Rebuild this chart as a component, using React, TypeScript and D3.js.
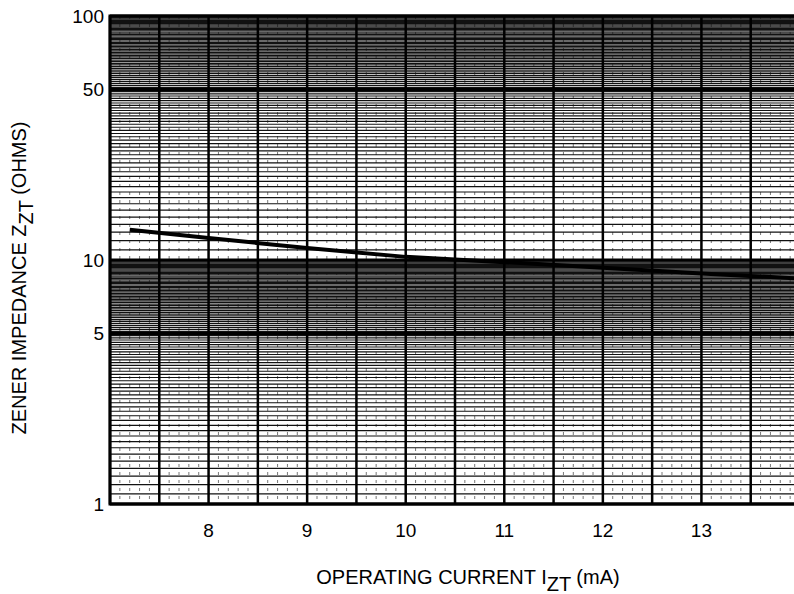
import React, { useEffect, useRef } from 'react';
import * as d3 from 'd3';

// operating current (mA) and zener impedance (ohms)
const currentMA = [7.2, 8, 9, 10, 11, 12, 13, 14];
const impedance = [13.3, 12.3, 11.2, 10.3, 9.8, 9.3, 8.8, 8.4];

const xTicks = [8, 9, 10, 11, 12, 13];
const yTicks = [1, 5, 10, 50, 100];
const yHeavy = [1, 5, 10, 50, 100];

const totalWidth = 794;
const totalHeight = 594;
const left = 110;
const right = 800;
const top = 16;
const bottom = 504;

const App = () => {
  const ref = useRef<SVGSVGElement>(null);

  useEffect(() => {
    const svg = d3.select(ref.current);
    svg.selectAll('*').remove();

    const x = d3.scaleLinear().domain([7, 14]).range([left, right]);
    const y = d3.scaleLog().domain([1, 100]).range([bottom, top]);

    const plot = svg.append('g');

    // white plot background
    plot.append('rect')
      .attr('x', left).attr('y', top)
      .attr('width', right - left).attr('height', bottom - top)
      .attr('fill', '#fff');

    // minor vertical lines every 0.1 mA (faint, broken)
    const minorX = d3.range(70, 140).map(v => v / 10).filter(v => Math.round(v * 10) % 5 !== 0);
    plot.selectAll('.vminor').data(minorX).enter()
      .append('line')
      .attr('x1', d => x(d)).attr('x2', d => x(d))
      .attr('y1', top).attr('y2', bottom)
      .attr('stroke', '#555')
      .attr('stroke-width', 0.8)
      .attr('stroke-dasharray', '3,5');

    // horizontal log grid: 0.1 steps in first decade, 1 steps in second
    const minorY = d3.range(10, 100).map(v => v / 10).concat(d3.range(10, 100));
    plot.selectAll('.hminor').data(minorY).enter()
      .append('line')
      .attr('x1', left).attr('x2', right)
      .attr('y1', d => y(d)).attr('y2', d => y(d))
      .attr('stroke', '#111')
      .attr('stroke-width', 1.2);

    plot.selectAll('.hheavy').data(yHeavy).enter()
      .append('line')
      .attr('x1', left).attr('x2', right)
      .attr('y1', d => y(d)).attr('y2', d => y(d))
      .attr('stroke', '#000')
      .attr('stroke-width', 3);

    // heavy vertical lines every 0.5 mA
    const majorX = d3.range(14, 29).map(v => v / 2);
    plot.selectAll('.vmajor').data(majorX).enter()
      .append('line')
      .attr('x1', d => x(d)).attr('x2', d => x(d))
      .attr('y1', top).attr('y2', bottom)
      .attr('stroke', '#000')
      .attr('stroke-width', 2.5);

    // border
    plot.append('rect')
      .attr('x', left).attr('y', top)
      .attr('width', right - left).attr('height', bottom - top)
      .attr('fill', 'none')
      .attr('stroke', '#000')
      .attr('stroke-width', 3);

    // curve
    const line = d3.line<number>()
      .x((d, i) => x(currentMA[i]))
      .y(d => y(d));
    plot.append('path')
      .datum(impedance)
      .attr('d', line)
      .attr('fill', 'none')
      .attr('stroke', '#000')
      .attr('stroke-width', 4);

    const font = '"Liberation Sans", Arial, sans-serif';

    // tick labels
    svg.selectAll('.xt').data(xTicks).enter()
      .append('text')
      .attr('x', d => x(d))
      .attr('y', 537)
      .attr('text-anchor', 'middle')
      .attr('font-family', font)
      .attr('font-size', 19)
      .text(d => d);

    svg.selectAll('.yt').data(yTicks).enter()
      .append('text')
      .attr('x', 104)
      .attr('y', d => y(d))
      .attr('dy', '0.36em')
      .attr('text-anchor', 'end')
      .attr('font-family', font)
      .attr('font-size', 19)
      .text(d => d);

    // x axis title
    const xt = svg.append('text')
      .attr('x', 468).attr('y', 584)
      .attr('text-anchor', 'middle')
      .attr('font-family', font)
      .attr('font-size', 20);
    xt.append('tspan').text('OPERATING CURRENT I');
    xt.append('tspan').attr('dy', 7).text('ZT');
    xt.append('tspan').attr('dy', -7).text(' (mA)');

    // y axis title
    const yt = svg.append('text')
      .attr('transform', 'translate(26, 278) rotate(-90)')
      .attr('text-anchor', 'middle')
      .attr('font-family', font)
      .attr('font-size', 20);
    yt.append('tspan').text('ZENER IMPEDANCE Z');
    yt.append('tspan').attr('dy', 7).text('ZT');
    yt.append('tspan').attr('dy', -7).text(' (OHMS)');
  }, []);

  return (
    <svg
      ref={ref}
      width={totalWidth}
      height={totalHeight}
      style={{ position: 'absolute', left: 0, top: 0, background: '#fff' }}
    />
  );
};

export default App;
